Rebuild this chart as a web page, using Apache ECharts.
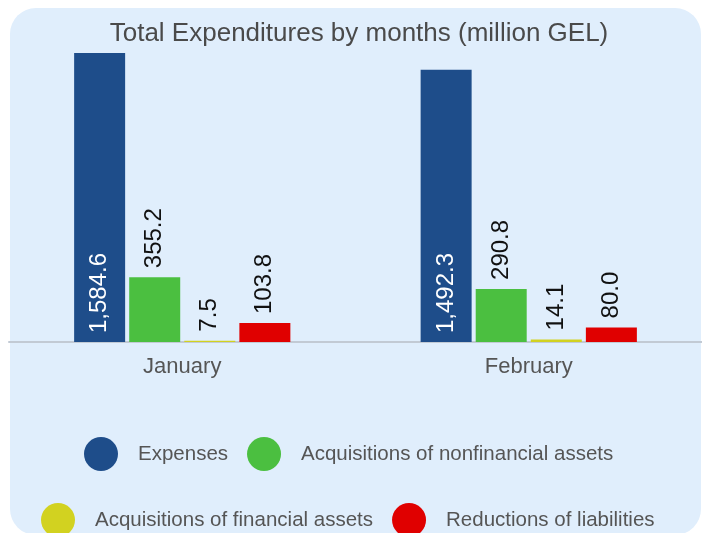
<!DOCTYPE html>
<html>
<head>
<meta charset="utf-8">
<script src="https://cdn.jsdelivr.net/npm/echarts@6/dist/echarts.min.js"></script>
<style>
  html, body { margin: 0; padding: 0; background: #fff; }
  .wrap { position: relative; width: 702px; height: 533px; overflow: hidden; }
  .panel { position: absolute; left: 10px; top: 8px; width: 691px; height: 527px; background: #e0eefc; border-radius: 26px; }
  #chart { position: absolute; left: 0; top: 0; width: 702px; height: 533px; }
</style>
</head>
<body>
<div class="wrap">
  <div class="panel"></div>
  <div id="chart"></div>
</div>
<script>
const months = ['January', 'February']
const seriesNames = [
  'Expenses',
  'Acquisitions of nonfinancial assets',
  'Acquisitions of financial assets',
  'Reductions of liabilities',
]
const expenses = [1584.6, 1492.3]
const nonfinancial = [355.2, 290.8]
const financial = [7.5, 14.1]
const liabilities = [103.8, 80.0]
const colors = ['#1e4d8a', '#4bbf40', '#d2d220', '#e00000']

const chart = echarts.init(document.getElementById('chart'))

const fmt = (p) =>
  p.value.toLocaleString('en-US', { minimumFractionDigits: 1, maximumFractionDigits: 1 })

const makeSeries = (name, data, idx) => {
  const inside = idx === 0
  return {
    name,
    type: 'bar',
    data,
    barWidth: 51,
    barGap: '8%',
    itemStyle: { color: colors[idx] },
    label: {
      show: true,
      position: inside ? 'insideBottom' : 'top',
      rotate: 90,
      align: 'left',
      verticalAlign: 'middle',
      distance: 9,
      color: inside ? '#fff' : '#111',
      fontFamily: 'Liberation Sans, Arial, sans-serif',
      fontSize: 24,
      formatter: fmt,
    },
  }
}

const legendBase = {
  orient: 'horizontal',
  padding: 0,
  icon: 'circle',
  itemWidth: 34,
  itemHeight: 34,
  itemGap: 19,
  textStyle: {
    color: '#555',
    fontFamily: 'Liberation Sans, Arial, sans-serif',
    fontSize: 20.5,
    padding: [0, 0, 0, 15],
  },
}

const option = {
  animation: false,
  color: colors,
  title: {
    text: 'Total Expenditures by months (million GEL)',
    left: 359,
    textAlign: 'center',
    top: 21,
    padding: 0,
    textStyle: {
      color: '#4a4a4a',
      fontFamily: 'Liberation Sans, Arial, sans-serif',
      fontSize: 26,
      fontWeight: 'normal',
    },
  },
  legend: [
    Object.assign({}, legendBase, { left: 84, top: 437, data: seriesNames.slice(0, 2) }),
    Object.assign({}, legendBase, { left: 41, top: 503, data: seriesNames.slice(2, 4) }),
  ],
  grid: { left: 9, width: 695, top: 53, bottom: 191, containLabel: false },
  xAxis: {
    type: 'category',
    data: months,
    axisLine: { lineStyle: { color: '#c2cad4', width: 2 } },
    axisTick: { show: false },
    axisLabel: {
      color: '#555',
      fontFamily: 'Liberation Sans, Arial, sans-serif',
      fontSize: 22,
      margin: 14,
    },
  },
  yAxis: {
    type: 'value',
    min: 0,
    max: 'dataMax',
    show: false,
    splitLine: { show: false },
  },
  series: [
    makeSeries(seriesNames[0], expenses, 0),
    makeSeries(seriesNames[1], nonfinancial, 1),
    makeSeries(seriesNames[2], financial, 2),
    makeSeries(seriesNames[3], liabilities, 3),
  ],
}

chart.setOption(option)
</script>
</body>
</html>
